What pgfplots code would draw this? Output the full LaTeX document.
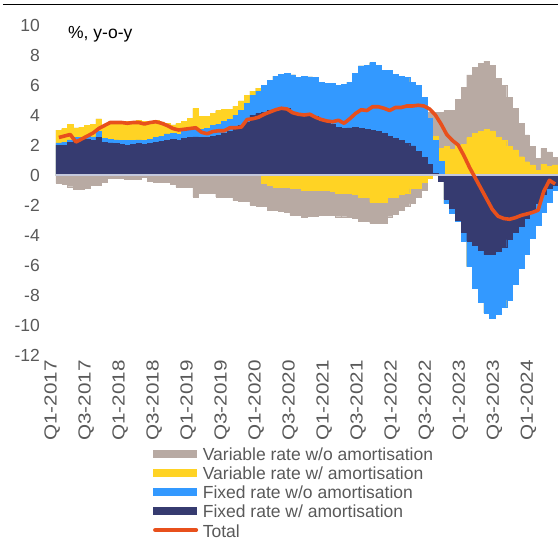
\documentclass[border=0pt]{standalone}
\usepackage{pgfplots}
\pgfplotsset{compat=1.18}
\usepackage{pgfplotstable}
\usepackage{graphicx}
\usepackage{fontspec}
\setmainfont{Liberation Sans}
\definecolor{cgrey}{HTML}{B8AAA3}
\definecolor{cyellow}{HTML}{FFD324}
\definecolor{cblue}{HTML}{3399FF}
\definecolor{cnavy}{HTML}{363B70}
\definecolor{corange}{HTML}{E8501C}
\definecolor{czero}{HTML}{C4C8DC}
\definecolor{tickgrey}{HTML}{595959}
\newcommand{\tfont}{\fontsize{17.5bp}{20bp}\selectfont}
\newcommand{\xl}[1]{\scalebox{1.18}[1]{#1}}
\pgfplotstableread{
i Np Bp Yp Gp Nn Bn Yn Gn T
0 2.0 2.15 3.0 3.0 0 0 0 -0.55 2.5
1 2.0 2.2 3.1 3.1 0 0 0 -0.6 2.6
2 2.2 2.35 3.4 3.4 0 0 0 -0.78 2.7
3 2.3 2.5 3.15 3.15 0 0 0 -0.95 2.2
4 2.3 2.5 3.2 3.2 0 0 0 -0.95 2.4
5 2.4 2.6 3.3 3.3 0 0 0 -0.9 2.6
6 2.3 2.55 3.4 3.4 0 0 0 -0.67 2.8
7 2.5 2.9 3.75 3.75 0 0 0 -0.67 3.1
8 2.2 2.45 3.3 3.3 0 0 0 -0.5 3.3
9 2.15 2.4 3.5 3.5 0 0 0 -0.22 3.5
10 2.1 2.35 3.6 3.6 0 0 0 -0.22 3.5
11 2.05 2.3 3.6 3.6 0 0 0 -0.22 3.5
12 2.0 2.3 3.6 3.6 0 0 0 -0.25 3.45
13 2.05 2.3 3.6 3.6 0 0 0 -0.3 3.5
14 2.1 2.35 3.65 3.65 0 0 0 -0.3 3.5
15 2.05 2.3 3.6 3.6 0 0 0 -0.15 3.4
16 2.1 2.4 3.6 3.6 0 0 0 -0.4 3.5
17 2.2 2.5 3.65 3.65 0 0 0 -0.45 3.55
18 2.25 2.6 3.55 3.55 0 0 0 -0.45 3.45
19 2.3 2.75 3.45 3.45 0 0 0 -0.5 3.3
20 2.4 2.8 3.35 3.35 0 0 0 -0.6 3.1
21 2.3 2.7 3.45 3.45 0 0 0 -0.8 3.0
22 2.45 2.9 3.6 3.6 0 0 0 -0.8 3.05
23 2.5 3.0 3.8 3.8 0 0 0 -0.8 3.1
24 2.55 3.05 4.45 4.45 0 0 0 -1.45 3.15
25 2.5 3.05 3.9 3.9 0 0 0 -1.2 2.85
26 2.5 3.1 3.9 3.9 0 0 0 -1.2 2.75
27 2.6 3.3 4.1 4.1 0 0 0 -1.2 2.9
28 2.65 3.4 4.3 4.3 0 0 0 -1.45 2.95
29 2.8 3.6 4.4 4.4 0 0 0 -1.5 2.95
30 2.9 3.7 4.4 4.4 0 0 0 -1.5 3.15
31 3.1 4.0 4.6 4.6 0 0 0 -1.7 3.15
32 3.3 4.3 4.95 4.95 0 0 0 -1.73 3.2
33 3.55 4.8 5.33 5.33 0 0 0 -1.73 3.7
34 4.0 5.3 5.6 5.6 0 0 0 -2.0 3.75
35 4.1 5.6 5.8 5.8 0 0 0 -2.05 3.85
36 4.2 6.0 6.0 6.0 0 0 -0.55 -2.07 4.05
37 4.3 6.33 6.33 6.33 0 0 -0.7 -2.33 4.2
38 4.4 6.6 6.6 6.6 0 0 -0.8 -2.33 4.35
39 4.5 6.7 6.7 6.7 0 0 -0.8 -2.4 4.45
40 4.45 6.8 6.8 6.8 0 0 -0.8 -2.5 4.4
41 4.2 6.67 6.67 6.67 0 0 -0.85 -2.67 4.15
42 4.1 6.5 6.5 6.5 0 0 -0.9 -2.67 4.05
43 4.05 6.6 6.6 6.6 0 0 -1.0 -2.8 4.0
44 4.0 6.55 6.55 6.55 0 0 -1.0 -2.73 4.05
45 3.9 6.5 6.5 6.5 0 0 -1.0 -2.73 3.85
46 3.6 6.2 6.2 6.2 0 0 -1.0 -2.7 3.7
47 3.5 6.1 6.1 6.1 0 0 -1.0 -2.67 3.6
48 3.4 6.1 6.1 6.1 0 0 -1.05 -2.7 3.55
49 3.2 6.0 6.0 6.0 0 0 -1.2 -2.78 3.65
50 3.1 6.05 6.05 6.05 0 0 -1.2 -2.78 3.45
51 3.15 6.2 6.2 6.2 0 0 -1.2 -2.8 3.75
52 3.2 6.8 6.8 6.8 0 0 -1.3 -2.9 4.1
53 3.1 7.27 7.27 7.27 0 0 -1.45 -3.1 4.35
54 3.05 7.3 7.3 7.3 0 0 -1.45 -3.1 4.3
55 3.0 7.5 7.5 7.5 0 0 -1.8 -3.2 4.55
56 2.9 7.33 7.33 7.33 0 0 -1.8 -3.2 4.55
57 2.8 7.0 7.0 7.0 0 0 -1.8 -3.2 4.45
58 2.6 7.0 7.0 7.0 0 0 -1.45 -2.78 4.3
59 2.45 6.7 6.7 6.7 0 0 -1.45 -2.6 4.5
60 2.3 6.6 6.6 6.6 0 0 -1.27 -2.33 4.5
61 2.1 6.5 6.5 6.5 0 0 -1.2 -2.1 4.6
62 1.95 6.2 6.2 6.2 0 0 -0.9 -1.9 4.6
63 1.6 6.0 6.0 6.0 0 0 -0.85 -1.45 4.65
64 1.2 5.2 5.2 5.2 0 0 -0.45 -1.0 4.6
65 0.7 3.8 3.8 4.2 0 0 -0.22 -0.22 4.4
66 0.1 2.3 2.6 4.2 0 0 0 0 4.0
67 0 0.9 1.8 4.2 -0.4 -0.4 -0.4 -0.4 3.4
68 0 0 1.9 4.3 -1.6 -1.9 -1.9 -1.9 2.7
69 0 0 1.7 4.3 -2.2 -2.55 -2.55 -2.55 2.3
70 0 0 2.0 5.05 -3.0 -3.1 -3.1 -3.1 2.0
71 0 0 2.05 5.85 -3.8 -4.4 -4.4 -4.4 1.3
72 0 0 2.5 6.67 -4.4 -6.1 -6.1 -6.1 0.5
73 0 0 2.78 7.2 -4.7 -7.55 -7.55 -7.55 -0.2
74 0 0 2.9 7.45 -5.0 -8.45 -8.45 -8.45 -0.9
75 0 0 3.05 7.6 -5.3 -9.2 -9.2 -9.2 -1.6
76 0 0 2.95 7.33 -5.3 -9.55 -9.55 -9.55 -2.3
77 0 0 2.5 6.45 -5.1 -9.3 -9.3 -9.3 -2.75
78 0 0 2.3 6.0 -4.8 -8.8 -8.8 -8.8 -2.9
79 0 0 1.93 5.2 -4.3 -8.33 -8.33 -8.33 -2.95
80 0 0 1.67 4.45 -3.8 -7.3 -7.3 -7.3 -2.85
81 0 0 1.22 3.45 -3.4 -6.2 -6.2 -6.2 -2.7
82 0 0 0.89 2.67 -2.9 -5.3 -5.3 -5.3 -2.6
83 0 0 0.67 1.9 -2.5 -4.2 -4.2 -4.2 -2.5
84 0 0 0.33 1.1 -1.9 -3.33 -3.33 -3.33 -2.35
85 0 0 0.73 1.78 -1.3 -2.45 -2.45 -2.45 -1.1
86 0 0 0.6 1.55 -0.9 -1.8 -1.8 -1.8 -0.35
87 0 0 0.67 1.2 -0.7 -1.0 -1.0 -1.0 -0.6
}\data
\begin{document}
\begin{tikzpicture}
\useasboundingbox (-56bp,-185bp) rectangle (502bp,355bp);
\draw[black, line width=1bp] (-53bp,350bp) -- (502bp,350bp);
\begin{axis}[
  at={(0,0)}, anchor=south west,
  scale only axis, width=502bp, height=330bp,
  xmin=-0.5, xmax=87.5, ymin=-12, ymax=10,
  ytick={-12,-10,...,10},
  xtick={0,5.96,11.93,17.89,23.86,29.82,35.79,41.75,47.71,53.68,59.64,65.61,71.57,77.54,83.5},
  xticklabels={\xl{Q1-2017},\xl{Q3-2017},\xl{Q1-2018},\xl{Q3-2018},\xl{Q1-2019},\xl{Q3-2019},\xl{Q1-2020},\xl{Q3-2020},\xl{Q1-2021},\xl{Q3-2021},\xl{Q1-2022},\xl{Q3-2022},\xl{Q1-2023},\xl{Q3-2023},\xl{Q1-2024}},
  xticklabel style={xshift=-6.8bp, rotate=90, anchor=east, inner sep=0pt, font=\tfont, text=tickgrey},
  xticklabel shift=5bp,
  yticklabel style={anchor=east, inner sep=0pt, xshift=-16bp, font=\tfont, text=tickgrey},
  /pgf/number format/assume math mode=true,
  axis line style={draw=none},
  major tick length=0pt,
  legend cell align=left,
  legend style={at={(axis description cs:0.1932,-0.2736)}, anchor=north west,
    draw=none, fill=none, inner sep=0pt, outer sep=0pt,
    font=\tfont, text=tickgrey, row sep=3.2bp, column sep=4.7bp,
    nodes={inner sep=0pt, text height=15bp, text depth=1bp}},
]
\addplot[ybar, bar width=1, bar shift=0pt, fill=cgrey, draw=cgrey, line width=0.3bp,
  legend image code/.code={\fill[cgrey] (0bp,-3.5bp) rectangle (43bp,3.5bp);}]
  table[x=i,y=Gp]{\data};
\addlegendentry{Variable rate w/o amortisation}
\addplot[ybar, bar width=1, bar shift=0pt, fill=cyellow, draw=cyellow, line width=0.3bp,
  legend image code/.code={\fill[cyellow] (0bp,-3.5bp) rectangle (43bp,3.5bp);}]
  table[x=i,y=Yp]{\data};
\addlegendentry{Variable rate w/ amortisation}
\addplot[ybar, bar width=1, bar shift=0pt, fill=cblue, draw=cblue, line width=0.3bp,
  legend image code/.code={\fill[cblue] (0bp,-3.5bp) rectangle (43bp,3.5bp);}]
  table[x=i,y=Bp]{\data};
\addlegendentry{Fixed rate w/o amortisation}
\addplot[ybar, bar width=1, bar shift=0pt, fill=cnavy, draw=cnavy, line width=0.3bp,
  legend image code/.code={\fill[cnavy] (0bp,-3.5bp) rectangle (43bp,3.5bp);}]
  table[x=i,y=Np]{\data};
\addlegendentry{Fixed rate w/ amortisation}
\addplot[ybar, bar width=1, bar shift=0pt, fill=cgrey, draw=cgrey, line width=0.3bp, forget plot]
  table[x=i,y=Gn]{\data};
\addplot[ybar, bar width=1, bar shift=0pt, fill=cyellow, draw=cyellow, line width=0.3bp, forget plot]
  table[x=i,y=Yn]{\data};
\addplot[ybar, bar width=1, bar shift=0pt, fill=cblue, draw=cblue, line width=0.3bp, forget plot]
  table[x=i,y=Bn]{\data};
\addplot[ybar, bar width=1, bar shift=0pt, fill=cnavy, draw=cnavy, line width=0.3bp, forget plot]
  table[x=i,y=Nn]{\data};
\draw[czero, line width=1.5bp] (axis cs:-0.5,0) -- (axis cs:87.5,0);
\addplot[color=corange, line width=3.6bp, line join=round, mark=none,
  legend image code/.code={\draw[corange, line width=4bp, line cap=round] (2bp,0bp) -- (43bp,0bp);}]
  table[x=i,y=T]{\data};
\addlegendentry{Total}
\node[anchor=base west, inner sep=0pt, font=\tfont, text=black] at (axis cs:1.6,9.13) {\%, y-o-y};
\end{axis}
\end{tikzpicture}
\end{document}
